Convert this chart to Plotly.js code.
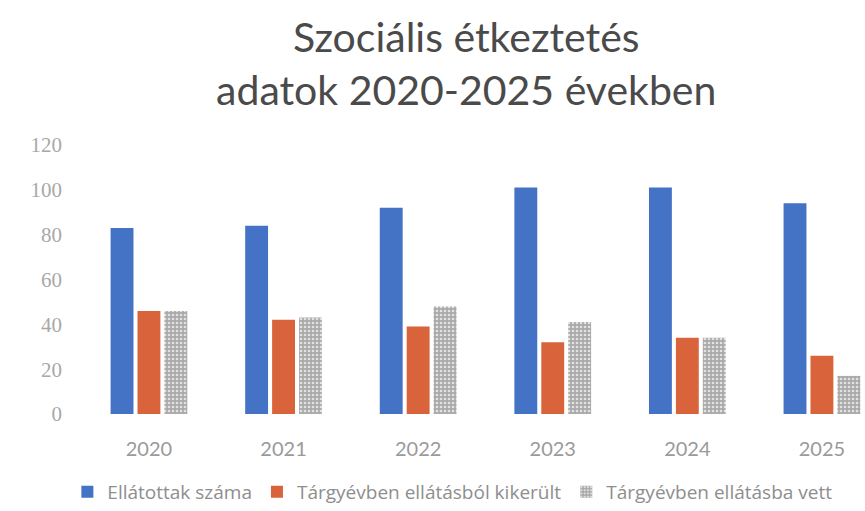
<!DOCTYPE html>
<html>
<head>
<meta charset="utf-8">
<script src="https://cdn.plot.ly/plotly-3.0.1.min.js"></script>
<style>html,body{margin:0;padding:0;background:#fff;}#chart{width:865px;height:511px;}</style>
</head>
<body>
<div id="chart"></div>
<script>
const years = ['2020', '2021', '2022', '2023', '2024', '2025'];
const ellatottak = [83, 84, 92, 101, 101, 94];
const kikerult = [46, 42, 39, 32, 34, 26];
const bevett = [46, 43, 48, 41, 34, 17];
const seriesNames = ['Ellátottak száma', 'Tárgyévben ellátásból kikerült', 'Tárgyévben ellátásba vett'];
const yTicks = [0, 20, 40, 60, 80, 100, 120];

const data = [
  {type: 'bar', name: seriesNames[0], x: years, y: ellatottak,
   marker: {color: '#4472C4'}},
  {type: 'bar', name: seriesNames[1], x: years, y: kikerult,
   marker: {color: '#D9633A'}},
  {type: 'bar', name: seriesNames[2], x: years, y: bevett,
   marker: {color: '#ADADAD', pattern: {shape: '.', bgcolor: '#A9A9A9', fgcolor: '#E2E2E2', size: 4, solidity: 0.35}}}
];

const layout = {
  width: 865, height: 511,
  margin: {l: 83, r: 0, t: 145, b: 95},
  paper_bgcolor: '#ffffff', plot_bgcolor: '#ffffff',
  title: {
    text: 'Szociális étkeztetés<br>adatok 2020-2025 években',
    font: {family: 'Lato, "Open Sans", sans-serif', size: 41, color: '#4a4a4a'},
    x: 0.539, xref: 'container', xanchor: 'center',
    y: 0.898, yref: 'container', yanchor: 'top'
  },
  barmode: 'group', bargap: 0.4, bargroupgap: 0.15,
  xaxis: {
    type: 'category', range: [-0.49, 5.32],
    showgrid: false, zeroline: false, showline: false, ticks: '',
    ticklabelstandoff: 21,
    tickfont: {family: 'Lato, "DejaVu Sans", sans-serif', size: 20, color: '#9a9a9a'}
  },
  yaxis: {
    range: [0, 120], tickvals: yTicks,
    showgrid: false, zeroline: false, showline: false, ticks: '',
    ticklabelstandoff: 20,
    tickfont: {family: '"Liberation Serif", "DejaVu Serif", serif', size: 21, color: '#a8a8a8'}
  },
  showlegend: true,
  legend: {
    orientation: 'h', x: -0.02, xanchor: 'left', y: -0.29, yanchor: 'middle',
    font: {family: '"Open Sans", sans-serif', size: 19, color: '#8e8e8e'},
    itemwidth: 30, tracegroupgap: 0
  }
};

Plotly.newPlot('chart', data, layout, {displayModeBar: false, staticPlot: true});
</script>
</body>
</html>
